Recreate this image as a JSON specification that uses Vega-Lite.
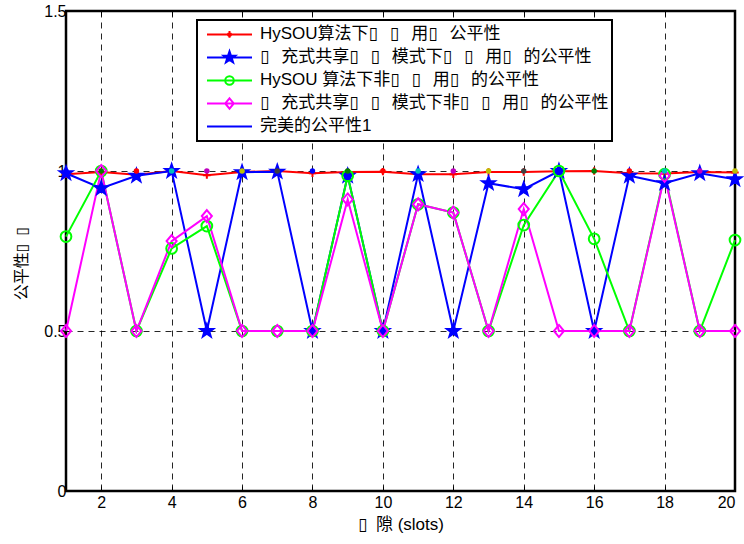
{
  "$schema": "https://vega.github.io/schema/vega-lite/v6.json",
  "width": 669,
  "height": 480,
  "autosize": "none",
  "padding": {"left": 66, "top": 11, "right": 9, "bottom": 53},
  "background": "white",
  "config": {
    "view": {"stroke": "black", "strokeWidth": 2.5},
    "font": "Liberation Sans, Noto Sans CJK SC, DejaVu Sans",
    "axis": {"labelFont": "Liberation Sans, Noto Sans CJK SC, DejaVu Sans", "titleFont": "Liberation Sans, Noto Sans CJK SC, DejaVu Sans"},
    "legend": {"labelFont": "Liberation Sans, Noto Sans CJK SC, DejaVu Sans"}
  },
  "datasets": {
    "main": [
      {"x": 1, "series": "HySOU算法下▯\u2002\u2009▯\u2002\u2009用▯\u2002\u2009公平性", "y": 0.99},
      {"x": 2, "series": "HySOU算法下▯\u2002\u2009▯\u2002\u2009用▯\u2002\u2009公平性", "y": 0.997},
      {"x": 3, "series": "HySOU算法下▯\u2002\u2009▯\u2002\u2009用▯\u2002\u2009公平性", "y": 0.988},
      {"x": 4, "series": "HySOU算法下▯\u2002\u2009▯\u2002\u2009用▯\u2002\u2009公平性", "y": 1.0},
      {"x": 5, "series": "HySOU算法下▯\u2002\u2009▯\u2002\u2009用▯\u2002\u2009公平性", "y": 0.987},
      {"x": 6, "series": "HySOU算法下▯\u2002\u2009▯\u2002\u2009用▯\u2002\u2009公平性", "y": 0.997},
      {"x": 7, "series": "HySOU算法下▯\u2002\u2009▯\u2002\u2009用▯\u2002\u2009公平性", "y": 1.0},
      {"x": 8, "series": "HySOU算法下▯\u2002\u2009▯\u2002\u2009用▯\u2002\u2009公平性", "y": 0.993},
      {"x": 9, "series": "HySOU算法下▯\u2002\u2009▯\u2002\u2009用▯\u2002\u2009公平性", "y": 0.997},
      {"x": 10, "series": "HySOU算法下▯\u2002\u2009▯\u2002\u2009用▯\u2002\u2009公平性", "y": 0.998},
      {"x": 11, "series": "HySOU算法下▯\u2002\u2009▯\u2002\u2009用▯\u2002\u2009公平性", "y": 0.99},
      {"x": 12, "series": "HySOU算法下▯\u2002\u2009▯\u2002\u2009用▯\u2002\u2009公平性", "y": 0.99},
      {"x": 13, "series": "HySOU算法下▯\u2002\u2009▯\u2002\u2009用▯\u2002\u2009公平性", "y": 0.997},
      {"x": 14, "series": "HySOU算法下▯\u2002\u2009▯\u2002\u2009用▯\u2002\u2009公平性", "y": 0.997},
      {"x": 15, "series": "HySOU算法下▯\u2002\u2009▯\u2002\u2009用▯\u2002\u2009公平性", "y": 0.999},
      {"x": 16, "series": "HySOU算法下▯\u2002\u2009▯\u2002\u2009用▯\u2002\u2009公平性", "y": 1.0},
      {"x": 17, "series": "HySOU算法下▯\u2002\u2009▯\u2002\u2009用▯\u2002\u2009公平性", "y": 0.993},
      {"x": 18, "series": "HySOU算法下▯\u2002\u2009▯\u2002\u2009用▯\u2002\u2009公平性", "y": 0.992},
      {"x": 19, "series": "HySOU算法下▯\u2002\u2009▯\u2002\u2009用▯\u2002\u2009公平性", "y": 0.997},
      {"x": 20, "series": "HySOU算法下▯\u2002\u2009▯\u2002\u2009用▯\u2002\u2009公平性", "y": 0.995},
      {"x": 1, "series": "▯\u2002\u2009充式共享▯\u2002\u2009▯\u2002\u2009模式下▯\u2002\u2009▯\u2002\u2009用▯\u2002\u2009的公平性", "y": 0.993},
      {"x": 2, "series": "▯\u2002\u2009充式共享▯\u2002\u2009▯\u2002\u2009模式下▯\u2002\u2009▯\u2002\u2009用▯\u2002\u2009的公平性", "y": 0.946},
      {"x": 3, "series": "▯\u2002\u2009充式共享▯\u2002\u2009▯\u2002\u2009模式下▯\u2002\u2009▯\u2002\u2009用▯\u2002\u2009的公平性", "y": 0.985},
      {"x": 4, "series": "▯\u2002\u2009充式共享▯\u2002\u2009▯\u2002\u2009模式下▯\u2002\u2009▯\u2002\u2009用▯\u2002\u2009的公平性", "y": 1.0},
      {"x": 5, "series": "▯\u2002\u2009充式共享▯\u2002\u2009▯\u2002\u2009模式下▯\u2002\u2009▯\u2002\u2009用▯\u2002\u2009的公平性", "y": 0.5},
      {"x": 6, "series": "▯\u2002\u2009充式共享▯\u2002\u2009▯\u2002\u2009模式下▯\u2002\u2009▯\u2002\u2009用▯\u2002\u2009的公平性", "y": 0.996},
      {"x": 7, "series": "▯\u2002\u2009充式共享▯\u2002\u2009▯\u2002\u2009模式下▯\u2002\u2009▯\u2002\u2009用▯\u2002\u2009的公平性", "y": 0.998},
      {"x": 8, "series": "▯\u2002\u2009充式共享▯\u2002\u2009▯\u2002\u2009模式下▯\u2002\u2009▯\u2002\u2009用▯\u2002\u2009的公平性", "y": 0.5},
      {"x": 9, "series": "▯\u2002\u2009充式共享▯\u2002\u2009▯\u2002\u2009模式下▯\u2002\u2009▯\u2002\u2009用▯\u2002\u2009的公平性", "y": 0.985},
      {"x": 10, "series": "▯\u2002\u2009充式共享▯\u2002\u2009▯\u2002\u2009模式下▯\u2002\u2009▯\u2002\u2009用▯\u2002\u2009的公平性", "y": 0.5},
      {"x": 11, "series": "▯\u2002\u2009充式共享▯\u2002\u2009▯\u2002\u2009模式下▯\u2002\u2009▯\u2002\u2009用▯\u2002\u2009的公平性", "y": 0.99},
      {"x": 12, "series": "▯\u2002\u2009充式共享▯\u2002\u2009▯\u2002\u2009模式下▯\u2002\u2009▯\u2002\u2009用▯\u2002\u2009的公平性", "y": 0.5},
      {"x": 13, "series": "▯\u2002\u2009充式共享▯\u2002\u2009▯\u2002\u2009模式下▯\u2002\u2009▯\u2002\u2009用▯\u2002\u2009的公平性", "y": 0.962},
      {"x": 14, "series": "▯\u2002\u2009充式共享▯\u2002\u2009▯\u2002\u2009模式下▯\u2002\u2009▯\u2002\u2009用▯\u2002\u2009的公平性", "y": 0.943},
      {"x": 15, "series": "▯\u2002\u2009充式共享▯\u2002\u2009▯\u2002\u2009模式下▯\u2002\u2009▯\u2002\u2009用▯\u2002\u2009的公平性", "y": 1.0},
      {"x": 16, "series": "▯\u2002\u2009充式共享▯\u2002\u2009▯\u2002\u2009模式下▯\u2002\u2009▯\u2002\u2009用▯\u2002\u2009的公平性", "y": 0.5},
      {"x": 17, "series": "▯\u2002\u2009充式共享▯\u2002\u2009▯\u2002\u2009模式下▯\u2002\u2009▯\u2002\u2009用▯\u2002\u2009的公平性", "y": 0.985},
      {"x": 18, "series": "▯\u2002\u2009充式共享▯\u2002\u2009▯\u2002\u2009模式下▯\u2002\u2009▯\u2002\u2009用▯\u2002\u2009的公平性", "y": 0.962},
      {"x": 19, "series": "▯\u2002\u2009充式共享▯\u2002\u2009▯\u2002\u2009模式下▯\u2002\u2009▯\u2002\u2009用▯\u2002\u2009的公平性", "y": 0.993},
      {"x": 20, "series": "▯\u2002\u2009充式共享▯\u2002\u2009▯\u2002\u2009模式下▯\u2002\u2009▯\u2002\u2009用▯\u2002\u2009的公平性", "y": 0.974},
      {"x": 1, "series": "HySOU 算法下非▯\u2002\u2009▯\u2002\u2009用▯\u2002\u2009的公平性", "y": 0.795},
      {"x": 2, "series": "HySOU 算法下非▯\u2002\u2009▯\u2002\u2009用▯\u2002\u2009的公平性", "y": 1.0},
      {"x": 3, "series": "HySOU 算法下非▯\u2002\u2009▯\u2002\u2009用▯\u2002\u2009的公平性", "y": 0.5},
      {"x": 4, "series": "HySOU 算法下非▯\u2002\u2009▯\u2002\u2009用▯\u2002\u2009的公平性", "y": 0.758},
      {"x": 5, "series": "HySOU 算法下非▯\u2002\u2009▯\u2002\u2009用▯\u2002\u2009的公平性", "y": 0.828},
      {"x": 6, "series": "HySOU 算法下非▯\u2002\u2009▯\u2002\u2009用▯\u2002\u2009的公平性", "y": 0.5},
      {"x": 7, "series": "HySOU 算法下非▯\u2002\u2009▯\u2002\u2009用▯\u2002\u2009的公平性", "y": 0.5},
      {"x": 8, "series": "HySOU 算法下非▯\u2002\u2009▯\u2002\u2009用▯\u2002\u2009的公平性", "y": 0.5},
      {"x": 9, "series": "HySOU 算法下非▯\u2002\u2009▯\u2002\u2009用▯\u2002\u2009的公平性", "y": 0.985},
      {"x": 10, "series": "HySOU 算法下非▯\u2002\u2009▯\u2002\u2009用▯\u2002\u2009的公平性", "y": 0.5},
      {"x": 11, "series": "HySOU 算法下非▯\u2002\u2009▯\u2002\u2009用▯\u2002\u2009的公平性", "y": 0.896},
      {"x": 12, "series": "HySOU 算法下非▯\u2002\u2009▯\u2002\u2009用▯\u2002\u2009的公平性", "y": 0.87},
      {"x": 13, "series": "HySOU 算法下非▯\u2002\u2009▯\u2002\u2009用▯\u2002\u2009的公平性", "y": 0.5},
      {"x": 14, "series": "HySOU 算法下非▯\u2002\u2009▯\u2002\u2009用▯\u2002\u2009的公平性", "y": 0.831},
      {"x": 15, "series": "HySOU 算法下非▯\u2002\u2009▯\u2002\u2009用▯\u2002\u2009的公平性", "y": 1.0},
      {"x": 16, "series": "HySOU 算法下非▯\u2002\u2009▯\u2002\u2009用▯\u2002\u2009的公平性", "y": 0.788},
      {"x": 17, "series": "HySOU 算法下非▯\u2002\u2009▯\u2002\u2009用▯\u2002\u2009的公平性", "y": 0.5},
      {"x": 18, "series": "HySOU 算法下非▯\u2002\u2009▯\u2002\u2009用▯\u2002\u2009的公平性", "y": 0.99},
      {"x": 19, "series": "HySOU 算法下非▯\u2002\u2009▯\u2002\u2009用▯\u2002\u2009的公平性", "y": 0.5},
      {"x": 20, "series": "HySOU 算法下非▯\u2002\u2009▯\u2002\u2009用▯\u2002\u2009的公平性", "y": 0.784},
      {"x": 1, "series": "▯\u2002\u2009充式共享▯\u2002\u2009▯\u2002\u2009模式下非▯\u2002\u2009▯\u2002\u2009用▯\u2002\u2009的公平性", "y": 0.5},
      {"x": 2, "series": "▯\u2002\u2009充式共享▯\u2002\u2009▯\u2002\u2009模式下非▯\u2002\u2009▯\u2002\u2009用▯\u2002\u2009的公平性", "y": 1.0},
      {"x": 3, "series": "▯\u2002\u2009充式共享▯\u2002\u2009▯\u2002\u2009模式下非▯\u2002\u2009▯\u2002\u2009用▯\u2002\u2009的公平性", "y": 0.5},
      {"x": 4, "series": "▯\u2002\u2009充式共享▯\u2002\u2009▯\u2002\u2009模式下非▯\u2002\u2009▯\u2002\u2009用▯\u2002\u2009的公平性", "y": 0.781},
      {"x": 5, "series": "▯\u2002\u2009充式共享▯\u2002\u2009▯\u2002\u2009模式下非▯\u2002\u2009▯\u2002\u2009用▯\u2002\u2009的公平性", "y": 0.859},
      {"x": 6, "series": "▯\u2002\u2009充式共享▯\u2002\u2009▯\u2002\u2009模式下非▯\u2002\u2009▯\u2002\u2009用▯\u2002\u2009的公平性", "y": 0.5},
      {"x": 7, "series": "▯\u2002\u2009充式共享▯\u2002\u2009▯\u2002\u2009模式下非▯\u2002\u2009▯\u2002\u2009用▯\u2002\u2009的公平性", "y": 0.5},
      {"x": 8, "series": "▯\u2002\u2009充式共享▯\u2002\u2009▯\u2002\u2009模式下非▯\u2002\u2009▯\u2002\u2009用▯\u2002\u2009的公平性", "y": 0.5},
      {"x": 9, "series": "▯\u2002\u2009充式共享▯\u2002\u2009▯\u2002\u2009模式下非▯\u2002\u2009▯\u2002\u2009用▯\u2002\u2009的公平性", "y": 0.911},
      {"x": 10, "series": "▯\u2002\u2009充式共享▯\u2002\u2009▯\u2002\u2009模式下非▯\u2002\u2009▯\u2002\u2009用▯\u2002\u2009的公平性", "y": 0.5},
      {"x": 11, "series": "▯\u2002\u2009充式共享▯\u2002\u2009▯\u2002\u2009模式下非▯\u2002\u2009▯\u2002\u2009用▯\u2002\u2009的公平性", "y": 0.896},
      {"x": 12, "series": "▯\u2002\u2009充式共享▯\u2002\u2009▯\u2002\u2009模式下非▯\u2002\u2009▯\u2002\u2009用▯\u2002\u2009的公平性", "y": 0.87},
      {"x": 13, "series": "▯\u2002\u2009充式共享▯\u2002\u2009▯\u2002\u2009模式下非▯\u2002\u2009▯\u2002\u2009用▯\u2002\u2009的公平性", "y": 0.5},
      {"x": 14, "series": "▯\u2002\u2009充式共享▯\u2002\u2009▯\u2002\u2009模式下非▯\u2002\u2009▯\u2002\u2009用▯\u2002\u2009的公平性", "y": 0.881},
      {"x": 15, "series": "▯\u2002\u2009充式共享▯\u2002\u2009▯\u2002\u2009模式下非▯\u2002\u2009▯\u2002\u2009用▯\u2002\u2009的公平性", "y": 0.5},
      {"x": 16, "series": "▯\u2002\u2009充式共享▯\u2002\u2009▯\u2002\u2009模式下非▯\u2002\u2009▯\u2002\u2009用▯\u2002\u2009的公平性", "y": 0.5},
      {"x": 17, "series": "▯\u2002\u2009充式共享▯\u2002\u2009▯\u2002\u2009模式下非▯\u2002\u2009▯\u2002\u2009用▯\u2002\u2009的公平性", "y": 0.5},
      {"x": 18, "series": "▯\u2002\u2009充式共享▯\u2002\u2009▯\u2002\u2009模式下非▯\u2002\u2009▯\u2002\u2009用▯\u2002\u2009的公平性", "y": 0.985},
      {"x": 19, "series": "▯\u2002\u2009充式共享▯\u2002\u2009▯\u2002\u2009模式下非▯\u2002\u2009▯\u2002\u2009用▯\u2002\u2009的公平性", "y": 0.5},
      {"x": 20, "series": "▯\u2002\u2009充式共享▯\u2002\u2009▯\u2002\u2009模式下非▯\u2002\u2009▯\u2002\u2009用▯\u2002\u2009的公平性", "y": 0.5}
    ],
    "perfect": [
      {"x": 1, "y": 1}, {"x": 2, "y": 1}, {"x": 3, "y": 1}, {"x": 4, "y": 1}, {"x": 5, "y": 1},
      {"x": 6, "y": 1}, {"x": 7, "y": 1}, {"x": 8, "y": 1}, {"x": 9, "y": 1}, {"x": 10, "y": 1},
      {"x": 11, "y": 1}, {"x": 12, "y": 1}, {"x": 13, "y": 1}, {"x": 14, "y": 1}, {"x": 15, "y": 1},
      {"x": 16, "y": 1}, {"x": 17, "y": 1}, {"x": 18, "y": 1}, {"x": 19, "y": 1}, {"x": 20, "y": 1}
    ]
  },
  "layer": [
    {
      "data": {"name": "main"},
      "mark": {"type": "line", "strokeWidth": 2},
      "encoding": {
        "x": {
          "field": "x", "type": "quantitative",
          "scale": {"domain": [1, 20], "nice": false, "zero": false},
          "axis": {
            "orient": "bottom", "values": [2, 4, 6, 8, 10, 12, 14, 16, 18, 20],
            "grid": true, "gridColor": "#000000", "gridDash": [6, 5], "gridWidth": 1, "gridOpacity": 0.85,
            "domain": false, "tickSize": -5, "tickColor": "#000000", "tickWidth": 1,
            "labelFontSize": 16, "labelColor": "#000000", "labelPadding": 8,
            "title": "▯\u2002隙 (slots)", "titleFontSize": 17, "titleFontWeight": "normal", "titleColor": "#000000", "titlePadding": 6
          }
        },
        "y": {
          "field": "y", "type": "quantitative",
          "scale": {"domain": [0, 1.5], "nice": false, "zero": false},
          "axis": {
            "orient": "left", "values": [0, 0.5, 1, 1.5],
            "labelExpr": "'' + datum.value",
            "grid": true, "gridColor": "#000000", "gridDash": [6, 5], "gridWidth": 1, "gridOpacity": 0.85,
            "domain": false, "tickSize": -5, "tickColor": "#000000", "tickWidth": 1,
            "labelFontSize": 16, "labelColor": "#000000", "labelPadding": 5,
            "title": "公平性▯\u2002▯", "titleFontSize": 16, "titleFontWeight": "normal", "titleColor": "#000000", "titlePadding": 14, "titleY": 252
          }
        },
        "color": {
          "field": "series", "type": "nominal",
          "scale": {
            "domain": ["HySOU算法下▯\u2002\u2009▯\u2002\u2009用▯\u2002\u2009公平性", "▯\u2002\u2009充式共享▯\u2002\u2009▯\u2002\u2009模式下▯\u2002\u2009▯\u2002\u2009用▯\u2002\u2009的公平性", "HySOU 算法下非▯\u2002\u2009▯\u2002\u2009用▯\u2002\u2009的公平性", "▯\u2002\u2009充式共享▯\u2002\u2009▯\u2002\u2009模式下非▯\u2002\u2009▯\u2002\u2009用▯\u2002\u2009的公平性", "完美的公平性1"],
            "range": ["#ff0000", "#0000ff", "#00ff00", "#ff00ff", "#0000ff"]
          },
          "legend": {
            "orient": "none", "legendX": 131, "legendY": 9, "title": null, "direction": "vertical",
            "symbolType": "stroke", "symbolSize": 2025, "symbolStrokeWidth": 2, "symbolOffset": 6,
            "clipHeight": 22.9, "rowPadding": 0, "padding": 3,
            "labelFontSize": 17, "labelColor": "#000000", "labelLimit": 0, "labelOffset": 7,
            "strokeColor": "#000000", "fillColor": "#ffffff",
            "encode": {
              "legend": {"update": {"strokeWidth": {"value": 2}}},
              "symbols": {
                "update": {
                  "shape": {"signal": "datum.index == 0 ? 'M-1,0L1,0M-0.14,0L0.14,0M0,-0.15L0,0.15M-0.07,0A0.07,0.07 0 1,0 0.07,0A0.07,0.07 0 1,0 -0.07,0Z' : datum.index == 1 ? 'M-1,0L1,0M0,-0.27L0.063,-0.087L0.257,-0.083L0.103,0.033L0.159,0.218L0,0.108L-0.159,0.218L-0.103,0.033L-0.257,-0.083L-0.063,-0.087Z' : datum.index == 2 ? 'M-1,0L1,0M-0.19,0A0.19,0.19 0 1,0 0.19,0A0.19,0.19 0 1,0 -0.19,0Z' : datum.index == 3 ? 'M-1,0L1,0M0,-0.23L0.19,0L0,0.23L-0.19,0Z' : 'M-1,0L1,0'"},
                  "fill": {"signal": "datum.index == 0 ? '#ff0000' : datum.index == 1 ? '#0000ff' : 'transparent'"}
                }
              }
            }
          }
        }
      }
    },
    {
      "data": {"name": "main"},
      "mark": {"type": "point", "filled": true, "size": 180, "strokeWidth": 2, "opacity": 1},
      "encoding": {
        "x": {"field": "x", "type": "quantitative", "axis": null},
        "y": {"field": "y", "type": "quantitative", "axis": null},
        "shape": {
          "field": "series", "type": "nominal", "legend": null,
          "scale": {
            "domain": ["HySOU算法下▯\u2002\u2009▯\u2002\u2009用▯\u2002\u2009公平性", "▯\u2002\u2009充式共享▯\u2002\u2009▯\u2002\u2009模式下▯\u2002\u2009▯\u2002\u2009用▯\u2002\u2009的公平性", "HySOU 算法下非▯\u2002\u2009▯\u2002\u2009用▯\u2002\u2009的公平性", "▯\u2002\u2009充式共享▯\u2002\u2009▯\u2002\u2009模式下非▯\u2002\u2009▯\u2002\u2009用▯\u2002\u2009的公平性"],
            "range": [
              "M-0.55,0L0.55,0M0,-0.55L0,0.55",
              "M0,-1L0.235,-0.324L0.951,-0.309L0.38,0.124L0.588,0.809L0,0.4L-0.588,0.809L-0.38,0.124L-0.951,-0.309L-0.235,-0.324Z",
              "M-0.8,0A0.8,0.8 0 1,0 0.8,0A0.8,0.8 0 1,0 -0.8,0Z",
              "M0,-0.9L0.75,0L0,0.9L-0.75,0Z"
            ]
          }
        },
        "stroke": {
          "field": "series", "type": "nominal", "legend": null,
          "scale": {
            "domain": ["HySOU算法下▯\u2002\u2009▯\u2002\u2009用▯\u2002\u2009公平性", "▯\u2002\u2009充式共享▯\u2002\u2009▯\u2002\u2009模式下▯\u2002\u2009▯\u2002\u2009用▯\u2002\u2009的公平性", "HySOU 算法下非▯\u2002\u2009▯\u2002\u2009用▯\u2002\u2009的公平性", "▯\u2002\u2009充式共享▯\u2002\u2009▯\u2002\u2009模式下非▯\u2002\u2009▯\u2002\u2009用▯\u2002\u2009的公平性"],
            "range": ["#ff0000", "#0000ff", "#00ff00", "#ff00ff"]
          }
        },
        "fill": {
          "field": "series", "type": "nominal", "legend": null,
          "scale": {
            "domain": ["HySOU算法下▯\u2002\u2009▯\u2002\u2009用▯\u2002\u2009公平性", "▯\u2002\u2009充式共享▯\u2002\u2009▯\u2002\u2009模式下▯\u2002\u2009▯\u2002\u2009用▯\u2002\u2009的公平性", "HySOU 算法下非▯\u2002\u2009▯\u2002\u2009用▯\u2002\u2009的公平性", "▯\u2002\u2009充式共享▯\u2002\u2009▯\u2002\u2009模式下非▯\u2002\u2009▯\u2002\u2009用▯\u2002\u2009的公平性"],
            "range": ["#ff0000", "#0000ff", "transparent", "transparent"]
          }
        }
      }
    },
    {
      "data": {"name": "perfect"},
      "mark": {"type": "point", "filled": true, "size": 30, "opacity": 1},
      "encoding": {
        "x": {
          "field": "x", "type": "quantitative",
          "axis": {"orient": "top", "values": [2, 4, 6, 8, 10, 12, 14, 16, 18, 20], "labels": false, "domain": false, "grid": false, "tickSize": -5, "tickColor": "#000000", "title": null}
        },
        "y": {
          "field": "y", "type": "quantitative",
          "axis": {"orient": "right", "values": [0, 0.5, 1, 1.5], "labels": false, "domain": false, "grid": false, "tickSize": -5, "tickColor": "#000000", "title": null}
        },
        "color": {
          "field": "x", "type": "nominal", "legend": null,
          "scale": {
            "domain": [1, 2, 3, 4, 5, 6, 7, 8, 9, 10, 11, 12, 13, 14, 15, 16, 17, 18, 19, 20],
            "range": ["#0000ff", "#008000", "#ff0000", "#00bfbf", "#bf00bf", "#bfbf00", "#404040", "#0000ff", "#008000", "#ff0000", "#00bfbf", "#bf00bf", "#bfbf00", "#404040", "#0000ff", "#008000", "#ff0000", "#00bfbf", "#bf00bf", "#bfbf00"]
          }
        }
      }
    }
  ],
  "resolve": {
    "scale": {"color": "independent"},
    "axis": {"x": "independent", "y": "independent"}
  }
}
